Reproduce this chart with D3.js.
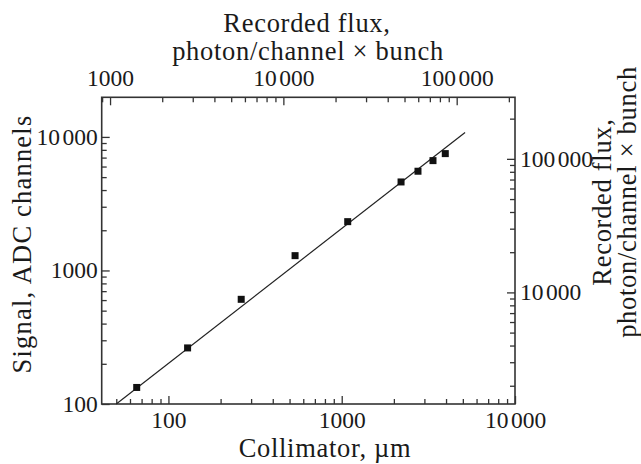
<!DOCTYPE html>
<html>
<head>
<meta charset="utf-8">
<script src="https://cdn.jsdelivr.net/npm/d3@7"></script>
<style>
  html, body { margin: 0; padding: 0; background: #fff; }
  svg { display: block; }
  text { font-family: "Liberation Serif", "DejaVu Serif", serif; fill: #1a1a1a; }
</style>
</head>
<body>
<svg id="chart" width="641" height="464"></svg>
<script>
// Collimator aperture (µm) and measured ADC signal for each point
const collimator = [65.6, 129, 263, 538, 1083, 2200, 2755, 3363, 3960];
const signal = [133, 263, 608, 1291, 2320, 4600, 5534, 6645, 7499];

// Straight-line fit drawn across the plot (log–log)
const fitCollimator = [50, 5150];
const fitSignal = [100, 10800];

// Tick label values and their printed text (digit groups split by a space)
const bottomTicks = [100, 1000, 10000];
const bottomLabels = ["100", "1000", "10 000"];
const leftTicks = [100, 1000, 10000];
const leftLabels = ["100", "1000", "10 000"];
const topTicks = [1000, 10000, 100000];
const topLabels = ["1000", "10 000", "100 000"];
const rightTicks = [10000, 100000];
const rightLabels = ["10 000", "100 000"];

const svg = d3.select("#chart");
const L = 101.7, R = 515, T = 97.3, B = 404;

const x = d3.scaleLog().domain([41.2, 10000]).range([L, R]);
const xTop = d3.scaleLog().domain([895, 217000]).range([L, R]);
const y = d3.scaleLog().domain([100, 19800]).range([B, T]);
const yRight = d3.scaleLog().domain([1460, 289000]).range([B, T]);

const isDecade = v => Math.abs(Math.log10(v) - Math.round(Math.log10(v))) < 1e-9;
const minorOf = s => s.ticks().filter(v => !isDecade(v));
const majorOf = s => s.ticks().filter(v => isDecade(v));

const tickFont = "23.5px";
const titleFont = "26.5px";
const titleSpacing = "0.7px";

function styleAxis(g) {
  g.select(".domain").remove();
  g.selectAll(".tick line").attr("stroke", "#333").attr("stroke-width", 1.3);
  g.selectAll(".tick text").style("font-size", tickFont)
    .style("font-family", "'Liberation Serif', serif").attr("fill", "#1a1a1a")
    .each(function () {
      // narrow gap between digit groups
      const t = d3.select(this);
      const parts = t.text().split(" ");
      if (parts.length < 2) return;
      t.text(null);
      parts.forEach((p, i) => t.append("tspan").attr("dx", i ? 2.5 : null).text(p));
    });
}

function labeler(ticks, labels) {
  return v => {
    const i = ticks.findIndex(t => Math.abs(t - v) / t < 1e-9);
    return i >= 0 ? labels[i] : "";
  };
}

// Bottom axis: ticks point inward (upwards)
svg.append("g").attr("transform", `translate(0,${B})`)
  .call(d3.axisBottom(x).tickValues(minorOf(x)).tickSize(-5).tickFormat(""))
  .call(styleAxis);
svg.append("g").attr("transform", `translate(0,${B})`)
  .call(d3.axisBottom(x).tickValues(majorOf(x)).tickSize(-8).tickPadding(7)
    .tickFormat(labeler(bottomTicks, bottomLabels)))
  .call(styleAxis);

// Top axis
svg.append("g").attr("transform", `translate(0,${T})`)
  .call(d3.axisTop(xTop).tickValues(minorOf(xTop)).tickSize(-5).tickFormat(""))
  .call(styleAxis);
svg.append("g").attr("transform", `translate(0,${T})`)
  .call(d3.axisTop(xTop).tickValues(majorOf(xTop)).tickSize(-8).tickPadding(11)
    .tickFormat(labeler(topTicks, topLabels)))
  .call(styleAxis);

// Left axis
svg.append("g").attr("transform", `translate(${L},0)`)
  .call(d3.axisLeft(y).tickValues(minorOf(y)).tickSize(-5).tickFormat(""))
  .call(styleAxis);
svg.append("g").attr("transform", `translate(${L},0)`)
  .call(d3.axisLeft(y).tickValues(majorOf(y)).tickSize(-8).tickPadding(4)
    .tickFormat(labeler(leftTicks, leftLabels)))
  .call(styleAxis);

// Right axis
svg.append("g").attr("transform", `translate(${R},0)`)
  .call(d3.axisRight(yRight).tickValues(minorOf(yRight)).tickSize(-5).tickFormat(""))
  .call(styleAxis);
svg.append("g").attr("transform", `translate(${R},0)`)
  .call(d3.axisRight(yRight).tickValues(majorOf(yRight)).tickSize(-8).tickPadding(5)
    .tickFormat(labeler(rightTicks, rightLabels)))
  .call(styleAxis);

// Frame
svg.append("rect").attr("x", L).attr("y", T).attr("width", R - L).attr("height", B - T)
  .attr("fill", "none").attr("stroke", "#333").attr("stroke-width", 1.6);

// Fit line
const fitPts = fitCollimator.map((c, i) => [x(c), y(fitSignal[i])]);
svg.append("path").attr("d", d3.line()(fitPts))
  .attr("fill", "none").attr("stroke", "#222").attr("stroke-width", 1.2);

// Data markers
const size = 7;
svg.append("g").selectAll("rect").data(collimator).join("rect")
  .attr("x", (d) => x(d) - size / 2)
  .attr("y", (d, i) => y(signal[i]) - size / 2)
  .attr("width", size).attr("height", size)
  .attr("fill", "#111");

// Axis titles
const title = sel => sel.attr("text-anchor", "middle")
  .style("font-size", titleFont).style("letter-spacing", titleSpacing);

svg.append("text").attr("x", 325).attr("y", 457).call(title)
  .text("Collimator, \u00b5m");

svg.append("text").attr("transform", "translate(31,244) rotate(-90)").call(title)
  .style("letter-spacing", "1.2px")
  .text("Signal, ADC channels");

const topTitle = svg.append("text").call(title);
topTitle.append("tspan").attr("x", 307).attr("y", 32).text("Recorded flux,");
topTitle.append("tspan").attr("x", 308).attr("y", 60).text("photon/channel  \u00d7 bunch");

const rightTitle = svg.append("text").attr("transform", "translate(611,202) rotate(-90)").call(title);
rightTitle.append("tspan").attr("x", 0).attr("y", 0).text("Recorded flux,");
rightTitle.append("tspan").attr("x", 0).attr("y", 25).text("photon/channel \u00d7 bunch");
</script>
</body>
</html>
